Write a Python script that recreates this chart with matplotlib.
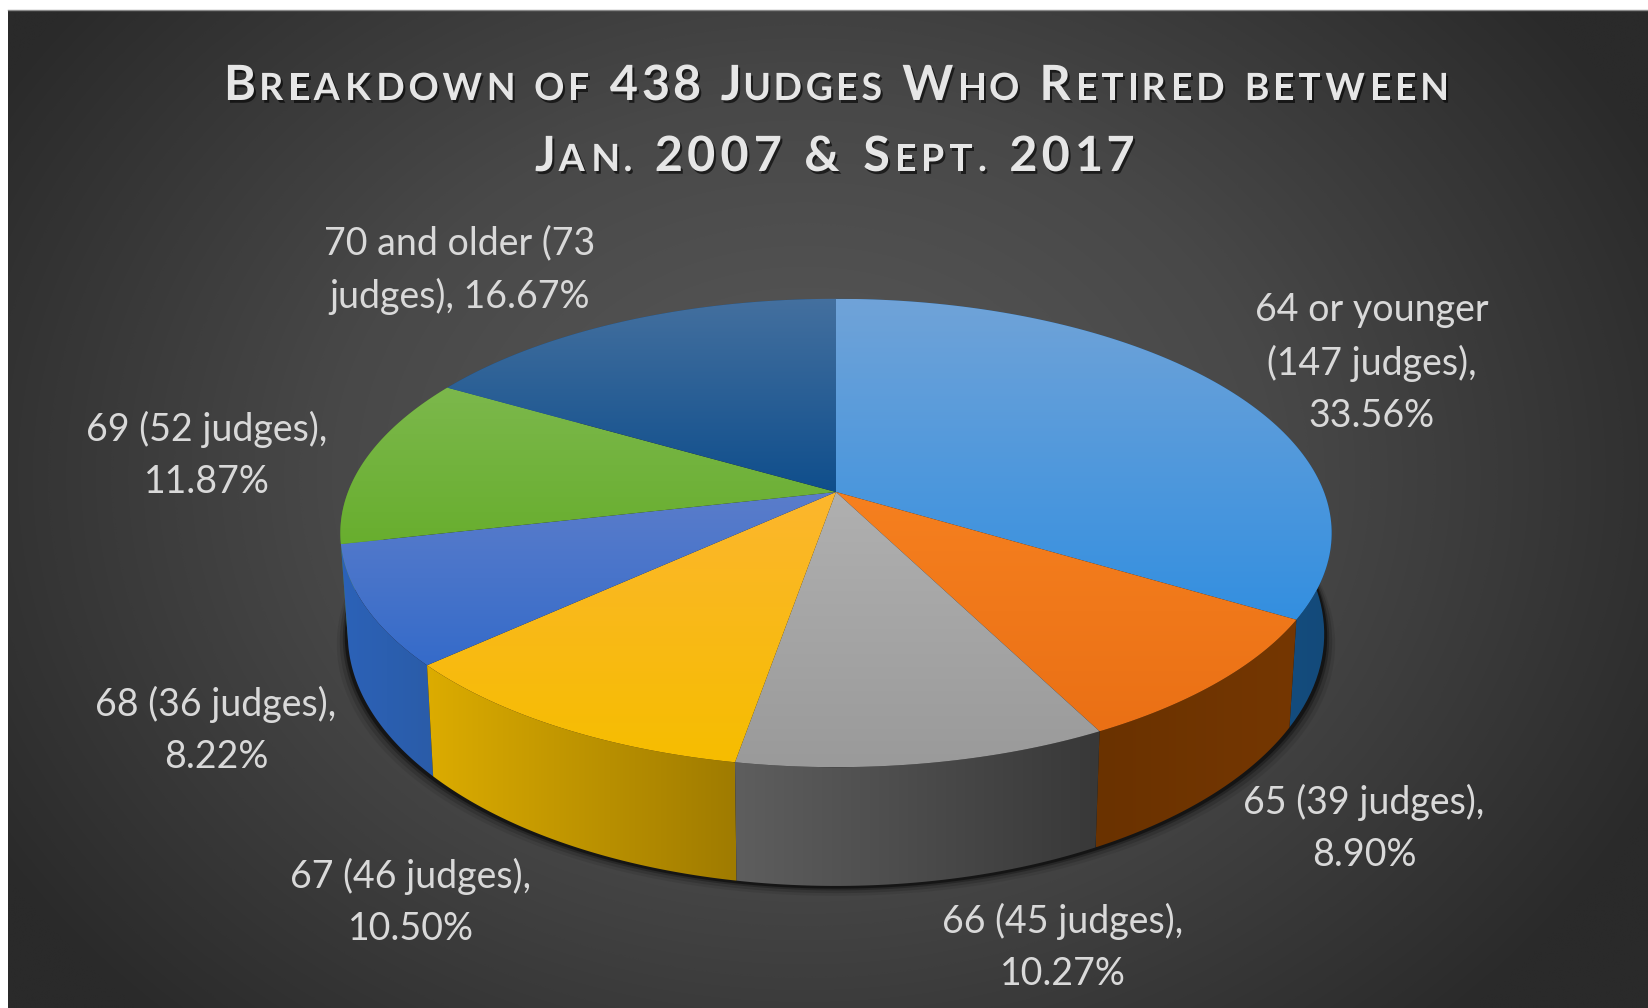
import numpy as np
import matplotlib
matplotlib.use('Agg')
import matplotlib.pyplot as plt
import matplotlib.patheffects as pe
from matplotlib.colors import LinearSegmentedColormap
from matplotlib.patches import Polygon
from matplotlib.textpath import TextPath
from matplotlib.font_manager import FontProperties

plt.rcParams['font.family'] = ['Lato', 'DejaVu Sans']

# Retirement counts, clockwise from twelve o'clock
age_groups = ['64 or younger', '65', '66', '67', '68', '69', '70 and older']
judges = [147, 39, 45, 46, 36, 52, 73]
percents = [33.56, 8.90, 10.27, 10.50, 8.22, 11.87, 16.67]

top_colors = [('#70a3d8', '#338fe0'), ('#f6801f', '#ea7015'), ('#b0b0b0', '#9a9a9a'),
              ('#fcb62e', '#f6bd00'), ('#5b7dcb', '#356bc9'), ('#7cb84c', '#68ae2e'),
              ('#44709f', '#0f4e8c')]
side_colors = [('#1d5f9c', '#134a7a'), ('#6a3200', '#753702'), ('#5e5e5e', '#383838'),
               ('#dcac00', '#9f7b00'), ('#2c62b8', '#2a5ca8'), ('#4c7f2a', '#4c7f2a'),
               ('#1a4a78', '#1a4a78')]

label_pos = [(1372, 363), (1364, 828), (1063, 947), (411, 902), (216, 730), (207, 455), (460, 270)]

title_lines = [
    [('B', 'reakdown of ', True), ('438', ' ', True),
     ('J', 'udges ', True), ('W', 'ho ', True), ('R', 'etired between', True)],
    [('J', 'an. ', True), ('2007', ' ', True), ('&', ' ', True), ('S', 'ept. ', True), ('2017', '', True)],
]

# pie projection, in pixels
cx, cy = 836, 492
rx, ry, persp = 488, 227, 0.175
depth, shrink = 98, 0.985

fig = plt.figure(figsize=(16.48, 10.08), dpi=100, facecolor='white')
ax = fig.add_axes([0, 0, 1, 1])
ax.set_xlim(0, 1648)
ax.set_ylim(1008, 0)
ax.axis('off')


def project(theta, r=1.0, bottom=False):
    x = r * np.sin(theta)
    y = -r * np.cos(theta)
    w = 1 - persp * y
    if bottom:
        return cx + shrink * rx * x / w, cy + (ry * y + depth) / w
    return cx + rx * x / w, cy + ry * y / w


def gradient_fill(pts, c0, c1, vertical=True, zorder=3):
    pts = np.asarray(pts)
    cmap = LinearSegmentedColormap.from_list('g', [c0, c1])
    ramp = np.linspace(0, 1, 256)
    ramp = ramp[:, None] if vertical else ramp[None, :]
    x0, y0 = pts.min(axis=0)
    x1, y1 = pts.max(axis=0)
    im = ax.imshow(ramp, cmap=cmap, extent=(x0, x1, y1, y0), aspect='auto', zorder=zorder)
    im.set_clip_path(Polygon(pts, closed=True, transform=ax.transData))


# background: dark panel, lighter towards the middle
yy, xx = np.mgrid[0:1008, 0:1648]
dist = np.sqrt(((xx - 800) / 1000) ** 2 + ((yy - 470) / 800) ** 2)
bg_cmap = LinearSegmentedColormap.from_list('bg', ['#5a5a5a', '#484848', '#2a2a2a'])
ax.imshow(np.clip(dist / 0.95, 0, 1), cmap=bg_cmap, vmin=0, vmax=1,
          extent=(8, 1648, 1008, 10), aspect='auto', zorder=0)
ax.plot([8, 1648], [10, 10], color='#8a8a8a', lw=1, zorder=1)

edges = np.cumsum([0] + judges) / sum(judges) * 2 * np.pi

# soft shadow under the pie
ring = np.linspace(0, 2 * np.pi, 361)
bx, by = project(ring, bottom=True)
for grow, alpha in [(11, 0.08), (8, 0.14), (5, 0.25), (3, 0.45)]:
    ax.fill(cx + (bx - cx) * (1 + grow / 490), by + grow * 0.9, color='black', alpha=alpha, lw=0, zorder=2)

# side walls back to front, then the top faces
order = sorted(range(len(judges)), key=lambda i: -np.cos((edges[i] + edges[i + 1]) / 2))
for i in order:
    th = np.linspace(edges[i], edges[i + 1], 80)
    tx, ty = project(th)
    ux, uy = project(th, bottom=True)
    pts = np.r_[np.c_[tx, ty], np.c_[ux, uy][::-1]]
    # walls run lighter to darker from the left of the slice
    gradient_fill(pts, side_colors[i][0], side_colors[i][1], vertical=False, zorder=3 + order.index(i) * 0.01)

for i in range(len(judges)):
    th = np.linspace(edges[i], edges[i + 1], 120)
    tx, ty = project(th)
    pts = np.r_[[[cx, cy]], np.c_[tx, ty]]
    gradient_fill(pts, top_colors[i][0], top_colors[i][1], zorder=4)

ax.set_xlim(0, 1648)
ax.set_ylim(1008, 0)

# data labels
for i, (x, y) in enumerate(label_pos):
    if age_groups[i] == '64 or younger':
        s = f'{age_groups[i]}\n({judges[i]} judges),\n{percents[i]:.2f}%'
    elif age_groups[i] == '70 and older':
        s = f'{age_groups[i]} ({judges[i]}\njudges), {percents[i]:.2f}%'
    else:
        s = f'{age_groups[i]} ({judges[i]} judges),\n{percents[i]:.2f}%'
    ax.text(x, y, s, ha='center', va='center', fontsize=27, color='#d9d9d9',
            linespacing=1.55, zorder=6)


def glyph_width(ch, size, bold):
    fp = FontProperties(family='Lato', weight='bold' if bold else 'medium')
    if ch == ' ':
        return size * 0.3 * 100 / 72
    return TextPath((0, 0), ch, size=size * 100 / 72, prop=fp).get_extents().x1


def draw_title(parts, x0, x1, base):
    glyphs = []
    for big, small, bold in parts:
        for ch in big:
            glyphs.append((ch, 35, bold))
        for ch in small.upper():
            glyphs.append((ch, 27, bold))
    widths = [glyph_width(*g) for g in glyphs]
    gap = (x1 - x0 - sum(widths)) / (len(glyphs) - 1)
    x = x0
    for (ch, size, bold), w in zip(glyphs, widths):
        ax.text(x, base, ch, fontsize=size, fontweight='bold' if bold else 'medium', color='#e6e6e6',
                ha='left', va='baseline', zorder=7,
                path_effects=[pe.withSimplePatchShadow(offset=(1.5, -2), shadow_rgbFace='black', alpha=0.6)])
        x += w + gap


draw_title(title_lines[0], 224, 1446, 100)
draw_title(title_lines[1], 535, 1133, 171)

fig.savefig('out.png', dpi=100, facecolor='white')
